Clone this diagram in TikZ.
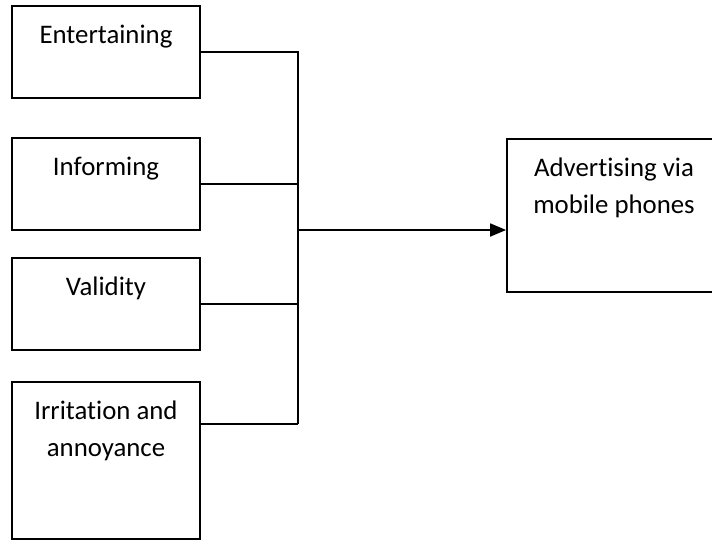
\documentclass[tikz,border=0pt]{standalone}
\usepackage{fontspec}
\setmainfont[Ligatures=NoCommon]{Carlito}
\usetikzlibrary{arrows.meta}

\begin{document}
\begin{tikzpicture}[
            x=1pt, y=-1pt,
            box/.style={
                rectangle,
                draw=black,
                fill=white,
                line width=1.8pt,
                minimum width=188pt,
                inner sep=0pt
            },
            lbl/.style={
                anchor=north,
                align=center,
                inner sep=0pt,
                yshift=-12pt,
                font=\fontsize{26.8}{37}\selectfont
            },
            link/.style={line width=1.8pt}
        ]

        \useasboundingbox (0,0) rectangle (712,542);
        \clip (0,0) rectangle (712,542);

        % Boxes
        \node[box, minimum height=92pt]  (ent) at (106,52)    {};
        \node[box, minimum height=92pt]  (inf) at (106,184)   {};
        \node[box, minimum height=92pt]  (val) at (106,304)   {};
        \node[box, minimum height=157pt] (irr) at (106,460.5) {};
        \node[box, minimum width=214pt, minimum height=153pt] (adv) at (614,215.5) {};

        % Texts
        \node[lbl] (tent) at (ent.north) {\strut Entertaining};
        \node[lbl] (tinf) at (inf.north) {\strut Informing};
        \node[lbl] (tval) at (val.north) {\strut Validity};
        \node[lbl] (tirr) at (irr.north) {\strut Irritation and\\\strut annoyance};
        \node[lbl] (tadv) at (adv.north) {\strut Advertising via\\\strut mobile phones};

        % Lines
        \coordinate (top) at (298,52);
        \coordinate (bot) at (298,424);
        \coordinate (mid) at (298,230);
        \draw[link] (ent.east) -- (top) -- (bot);
        \draw[link] (inf.east) -- (inf.east -| top);
        \draw[link] (val.east) -- (val.east -| top);
        \draw[link] (irr.north east |- bot) -- (bot);
        \draw[link, -{Triangle[length=16pt,width=13pt]}] (mid) -- (adv.west |- mid);

        \end{tikzpicture}
\end{document}
